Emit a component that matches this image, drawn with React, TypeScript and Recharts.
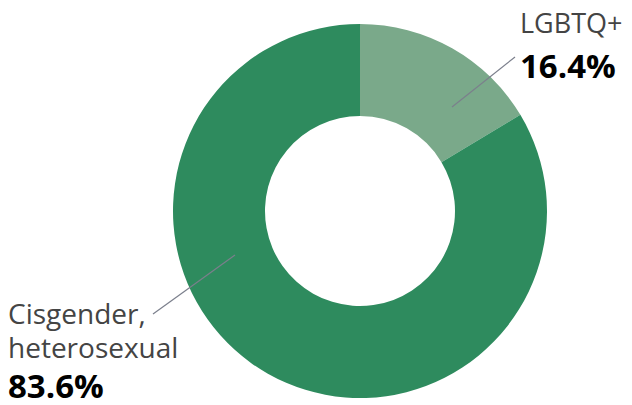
import { PieChart, Pie, Cell } from 'recharts';

const groups = ['LGBTQ+', 'Cisgender, heterosexual'];
const shares = [16.4, 83.6];
const sliceColors = ['#7aa98a', '#2e8b5e'];

const data = groups.map((name, i) => ({ name, value: shares[i] }));

const FONT = '"Open Sans", "Noto Sans", sans-serif';

// label placement relative to the pie centre
const labelLayout = [
  {
    line: [92, -104, 155, -154],
    lines: ['LGBTQ+'],
    x: 160,
    y: -178,
    size: 27,
    gap: 45,
  },
  {
    line: [-125, 44, -207, 103],
    lines: ['Cisgender,', 'heterosexual'],
    x: -352,
    y: 113,
    size: 28,
    gap: 40,
  },
];

const renderLabel = (props: any) => {
  const { cx, cy, index, value } = props;
  const cfg = labelLayout[index];
  const [x1, y1, x2, y2] = cfg.line;
  const last = cfg.y + (cfg.lines.length - 1) * 34;
  return (
    <g>
      <line
        x1={cx + x1}
        y1={cy + y1}
        x2={cx + x2}
        y2={cy + y2}
        stroke="#7b7f8c"
        strokeWidth={1.2}
      />
      {cfg.lines.map((t, k) => (
        <text
          key={t}
          x={cx + cfg.x}
          y={cy + cfg.y + k * 34}
          fill="#444"
          fontSize={cfg.size}
          fontFamily={FONT}
        >
          {t}
        </text>
      ))}
      <text
        x={cx + cfg.x}
        y={cy + last + cfg.gap}
        fill="#000"
        fontSize={33}
        fontWeight={700}
        fontFamily={FONT}
      >
        {value.toFixed(1)}%
      </text>
    </g>
  );
};

export default function App() {
  return (
    <div style={{ width: 632, height: 405, background: '#fff' }}>
      <style>{`body{margin:0}`}</style>
      <PieChart width={632} height={405} margin={{ top: 0, right: 0, bottom: 0, left: 0 }}>
        <Pie
          data={data}
          dataKey="value"
          nameKey="name"
          cx={360}
          cy={211}
          innerRadius={95}
          outerRadius={187}
          startAngle={90}
          endAngle={-270}
          stroke="none"
          label={renderLabel}
          labelLine={false}
          isAnimationActive={false}
        >
          {data.map((d, i) => (
            <Cell key={d.name} fill={sliceColors[i]} />
          ))}
        </Pie>
      </PieChart>
    </div>
  );
}
